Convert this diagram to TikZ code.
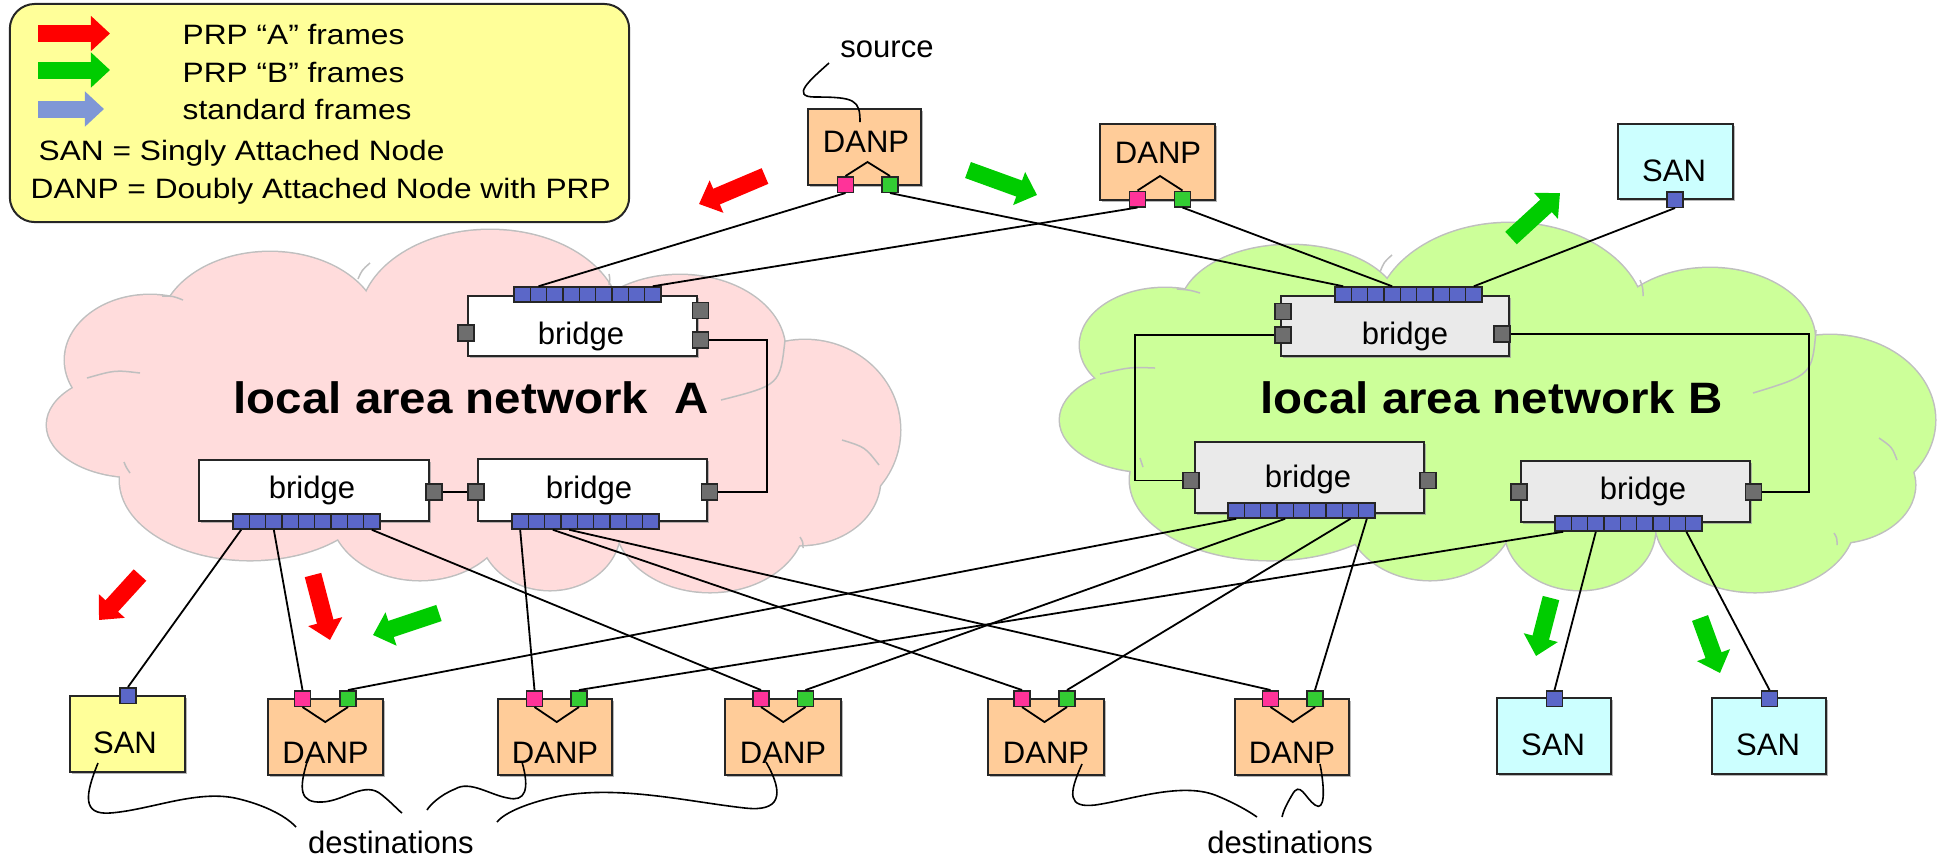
\documentclass[tikz,border=0pt]{standalone}
\usepackage{fontspec}
\setmainfont{Liberation Sans}
\usepackage{graphicx}
\usetikzlibrary{arrows.meta,shadows}
\definecolor{legY}{HTML}{FFFF99}
\definecolor{cloudA}{HTML}{FFDCDC}
\definecolor{cloudB}{HTML}{CCFF99}
\definecolor{cloudLine}{HTML}{BFBFBF}
\definecolor{danpC}{HTML}{FFCC99}
\definecolor{sanC}{HTML}{CCFFFF}
\definecolor{bridgeB}{HTML}{EAEAEA}
\definecolor{portBlue}{HTML}{5B67C8}
\definecolor{portGray}{HTML}{6E6E6E}
\definecolor{portPink}{HTML}{FF3399}
\definecolor{portGreen}{HTML}{33CC33}
\definecolor{arrRed}{HTML}{FF0000}
\definecolor{arrGreen}{HTML}{00CC00}
\definecolor{arrBlue}{HTML}{7F97D6}
\newcommand\fLeg{\fontsize{7.97pt}{9pt}\selectfont}
\newcommand\fBox{\fontsize{8.82pt}{10pt}\selectfont}
\newcommand\fLan{\fontsize{12.5pt}{14pt}\selectfont\bfseries}
\newcommand\hs[1]{\scalebox{1.13}[1]{#1}}
\begin{document}
\begin{tikzpicture}[x=0.01cm,y=-0.01cm,
  shad/.style={drop shadow={shadow xshift=0.022cm, shadow yshift=-0.022cm, fill=black!40, opacity=0.7}},
  boxst/.style={rectangle, draw=black!85, line width=0.02cm, inner sep=0pt, shad},
  stripcell/.style={rectangle, draw=black!85, line width=0.015cm, fill=portBlue, inner sep=0pt, minimum width=0.1633cm, minimum height=0.15cm},
  port/.style={rectangle, draw=black!85, line width=0.015cm, inner sep=0pt, minimum width=0.16cm, minimum height=0.155cm},
  gport/.style={port, fill=portGray, minimum height=0.16cm},
  pport/.style={port, fill=portPink},
  grport/.style={port, fill=portGreen},
  bport/.style={port, fill=portBlue},
  conn/.style={line width=0.018cm, draw=black},
  squig/.style={line width=0.016cm, draw=black},
  fat/.style={line width=0.17cm, -{Triangle[length=0.19cm,width=0.34cm]}},
  lbl/.style={inner sep=0pt, anchor=base, font=\fBox},
  legtxt/.style={inner sep=0pt, anchor=base west, font=\fLeg},
  cloudedge/.style={draw=cloudLine, line width=0.03cm},
  cloudarc/.style={draw=cloudLine, line width=0.015cm},
]
\useasboundingbox (0,0) rectangle (1937,859);

% ---------- clouds ----------
\foreach \cx/\cy/\rx/\ry in {150/360/85/65, 135/425/88/52, 270/330/110/78, 490/320/130/90, 680/350/105/75, 805/430/95/90, 800/480/80/65, 710/520/95/72, 550/530/70/60, 420/510/90/70, 250/480/130/80}
  \draw[cloudedge, fill=cloudA] (\cx,\cy) ellipse [x radius=\rx, y radius=\ry];
\foreach \cx/\cy/\rx/\ry in {150/360/85/65, 135/425/88/52, 270/330/110/78, 490/320/130/90, 680/350/105/75, 805/430/95/90, 800/480/80/65, 710/520/95/72, 550/530/70/60, 420/510/90/70, 250/480/130/80, 470/420/300/120}
  \fill[cloudA] (\cx,\cy) ellipse [x radius=\rx, y radius=\ry];
\draw[cloudarc] (162,296) .. controls (173,296) .. (183,300);
\draw[cloudarc] (87,378) .. controls (115,370) .. (140,373);
\draw[cloudarc] (370,263) .. controls (362,270) .. (358,279);
\draw[cloudarc] (609,274) .. controls (610,279) .. (609,285);
\draw[cloudarc] (785,340) .. controls (780,385) .. (721,400);
\draw[cloudarc] (842,440) .. controls (865,447) .. (879,465);
\draw[cloudarc] (800,537) .. controls (803,542) .. (803,548);
\draw[cloudarc] (124,462) .. controls (126,467) .. (130,473);

\foreach \cx/\cy/\rx/\ry in {1165/345/85/57, 1150/420/90/52, 1290/310/110/65, 1510/320/135/97, 1710/340/105/72, 1830/420/105/85, 1835/485/80/58, 1755/520/100/72, 1580/530/75/60, 1430/510/85/70, 1270/480/140/80}
  \draw[cloudedge, fill=cloudB] (\cx,\cy) ellipse [x radius=\rx, y radius=\ry];
\foreach \cx/\cy/\rx/\ry in {1165/345/85/57, 1150/420/90/52, 1290/310/110/65, 1510/320/135/97, 1710/340/105/72, 1830/420/105/85, 1835/485/80/58, 1755/520/100/72, 1580/530/75/60, 1430/510/85/70, 1270/480/140/80, 1500/420/320/120}
  \fill[cloudB] (\cx,\cy) ellipse [x radius=\rx, y radius=\ry];
\draw[cloudarc] (1177,289) .. controls (1190,290) .. (1200,293);
\draw[cloudarc] (1100,374) .. controls (1130,367) .. (1155,368);
\draw[cloudarc] (1392,255) .. controls (1384,262) .. (1380,272);
\draw[cloudarc] (1640,280) .. controls (1643,288) .. (1643,296);
\draw[cloudarc] (1816,330) .. controls (1812,375) .. (1753,393);
\draw[cloudarc] (1879,438) .. controls (1892,447) .. (1897,460);
\draw[cloudarc] (1834,533) .. controls (1837,538) .. (1837,545);
\draw[cloudarc] (1143,467) .. controls (1141,462) .. (1140,458);

\node[font=\fLan, inner sep=0pt, anchor=base west] (lanA) at (233,413) {\scalebox{1.08}[1]{local area network\ \ A}};
\node[font=\fLan, inner sep=0pt, anchor=base west] (lanB) at (1260,413) {\scalebox{1.08}[1]{local area network B}};

% ---------- legend ----------
\node[draw=black!85, line width=0.02cm, fill=legY, rounded corners=0.25cm, minimum width=6.19cm, minimum height=2.18cm, inner sep=0pt] (legend) at (319.5,113) {};
\draw[fat, arrRed] (38,33.5) -- (110,33.5);
\draw[fat, arrGreen] (38,70) -- (110,70);
\draw[fat, arrBlue] (38,109) -- (104,109);
\node[legtxt] (lg1) at (182,44) {\hs{PRP “A” frames}};
\node[legtxt] (lg2) at (182,82) {\hs{PRP “B” frames}};
\node[legtxt] (lg3) at (182,119) {\hs{standard frames}};
\node[legtxt] (lg4) at (38,160) {\hs{SAN = Singly Attached Node}};
\node[legtxt] (lg5) at (30,198) {\hs{DANP = Doubly Attached Node with PRP}};

% ---------- bridges LAN A ----------
\node[boxst, fill=white, minimum width=2.29cm, minimum height=0.60cm] (bAT) at (582.5,326) {};
\node[lbl] (bATt) at (581,344) {bridge};
\foreach \i in {1,...,9} \node[stripcell] (sAT\i) at ({514+(\i-0.5)*16.33},294.5) {};
\node[gport] (pATl) at (466,333) {};
\node[gport] (pATr1) at (700.5,310.5) {};
\node[gport] (pATr2) at (700.5,340) {};

\node[boxst, fill=white, minimum width=2.30cm, minimum height=0.61cm] (bAL) at (314,490.5) {};
\node[lbl] (bALt) at (312,498) {bridge};
\foreach \i in {1,...,9} \node[stripcell] (sAL\i) at ({233+(\i-0.5)*16.33},521.5) {};
\node[gport] (pALr) at (434,492) {};

\node[boxst, fill=white, minimum width=2.29cm, minimum height=0.62cm] (bAR) at (592.5,490) {};
\node[lbl] (bARt) at (589,498) {bridge};
\foreach \i in {1,...,9} \node[stripcell] (sAR\i) at ({512+(\i-0.5)*16.33},521.5) {};
\node[gport] (pARl) at (476,492) {};
\node[gport] (pARr) at (709.5,492) {};

% ---------- bridges LAN B ----------
\node[boxst, fill=bridgeB, minimum width=2.28cm, minimum height=0.60cm] (bBT) at (1395,326) {};
\node[lbl] (bBTt) at (1405,344) {bridge};
\foreach \i in {1,...,9} \node[stripcell] (sBT\i) at ({1335+(\i-0.5)*16.33},294.5) {};
\node[gport] (pBTl1) at (1283,311.5) {};
\node[gport] (pBTl2) at (1283,335) {};
\node[gport] (pBTr) at (1502,334) {};

\node[boxst, fill=bridgeB, minimum width=2.29cm, minimum height=0.71cm] (bBL) at (1309.5,477.5) {};
\node[lbl] (bBLt) at (1308,487) {bridge};
\foreach \i in {1,...,9} \node[stripcell] (sBL\i) at ({1228+(\i-0.5)*16.33},510.5) {};
\node[gport] (pBLl) at (1191,480.5) {};
\node[gport] (pBLr) at (1428,480.5) {};

\node[boxst, fill=bridgeB, minimum width=2.29cm, minimum height=0.61cm] (bBR) at (1635.5,491.5) {};
\node[lbl] (bBRt) at (1643,499) {bridge};
\foreach \i in {1,...,9} \node[stripcell] (sBR\i) at ({1555+(\i-0.5)*16.33},523.5) {};
\node[gport] (pBRl) at (1519,492) {};
\node[gport] (pBRr) at (1753.5,492) {};

% inter-bridge wires
\draw[conn] (pATr2.east) -- ++(58,0) |- (pARr.east);
\draw[conn] (pALr.east) -- (pARl.west);
\draw[conn] (pBTl2.west) -- ++(-139,0) |- (pBLl.west);
\draw[conn] (pBTr.east) -- ++(298,0) |- (pBRr.east);

% ---------- top nodes ----------
\node[boxst, fill=danpC, minimum width=1.13cm, minimum height=0.76cm] (src) at (864.5,147) {};
\node[lbl] (srcT) at (866,152) {DANP};
\node[pport] (srcP) at (845.5,184.5) {};
\node[grport] (srcG) at (890,184.5) {};
\coordinate (srcV) at (867.5,162);
\draw[conn] (srcP.north) -- (srcV) -- (srcG.north);

\node[boxst, fill=danpC, minimum width=1.15cm, minimum height=0.76cm] (dnp) at (1157.5,162) {};
\node[lbl] (dnpT) at (1158,163) {DANP};
\node[pport] (dnpP) at (1137.5,199) {};
\node[grport] (dnpG) at (1182.5,199) {};
\coordinate (dnpV) at (1160,176);
\draw[conn] (dnpP.north) -- (dnpV) -- (dnpG.north);

\node[boxst, fill=sanC, minimum width=1.15cm, minimum height=0.75cm] (sanTR) at (1675.5,161.5) {};
\node[lbl] (sanTRt) at (1674,181) {SAN};
\node[bport] (sanTRp) at (1675,199.5) {};

\node[lbl] (srcLbl) at (887,57) {source};
\draw[squig] (829,63) .. controls (810,80) and (790,97) .. (815,97) .. controls (855,97) and (860,100) .. (860,122);

% ---------- bottom nodes ----------
\node[boxst, fill=legY, minimum width=1.15cm, minimum height=0.76cm] (sanY) at (127.5,734) {};
\node[lbl] (sanYt) at (125,753) {SAN};
\node[bport] (sanYp) at (128,695.5) {};

\foreach \n/\cx/\w/\pp/\gp in {d1/325.5/1.15/302.5/348, d2/555/1.14/534.5/579, d3/783/1.16/761/805.5, d4/1046/1.16/1022/1067, d5/1292/1.14/1270.5/1315} {
  \node[boxst, fill=danpC, minimum width=\w cm, minimum height=0.76cm] (\n) at (\cx,737) {};
  \node[lbl] (\n t) at (\cx,763) {DANP};
  \node[pport] (\n P) at (\pp,698.5) {};
  \node[grport] (\n G) at (\gp,698.5) {};
  \coordinate (\n V) at ({(\pp+\gp)/2},722);
  \draw[conn] (\n P.south) -- (\n V) -- (\n G.south);
}

\node[boxst, fill=sanC, minimum width=1.14cm, minimum height=0.76cm] (sB1) at (1554,736) {};
\node[lbl] (sB1t) at (1553,755) {SAN};
\node[bport] (sB1p) at (1554.5,698.5) {};
\node[boxst, fill=sanC, minimum width=1.14cm, minimum height=0.76cm] (sB2) at (1769,736) {};
\node[lbl] (sB2t) at (1768,755) {SAN};
\node[bport] (sB2p) at (1769.5,698.5) {};

\node[lbl] (dest1) at (391,853) {destinations};
\node[lbl] (dest2) at (1290,853) {destinations};

\draw[squig] (98,763) .. controls (85,795) and (82,815) .. (110,813) .. controls (150,810) and (195,790) .. (235,798) .. controls (262,804) and (285,815) .. (296,827);
\draw[squig] (308,759) .. controls (298,790) and (300,803) .. (322,802) .. controls (345,801) and (365,780) .. (382,795) .. controls (392,803) and (398,810) .. (402,813);
\draw[squig] (522,762) .. controls (530,790) and (525,802) .. (508,798) .. controls (490,795) and (470,780) .. (455,789) .. controls (440,795) and (430,805) .. (427,810);
\draw[squig] (766,762) .. controls (785,795) and (780,812) .. (745,808) .. controls (690,802) and (620,785) .. (560,796) .. controls (530,802) and (505,812) .. (497,822);
\draw[squig] (1082,764) .. controls (1068,795) and (1068,808) .. (1095,805) .. controls (1130,800) and (1180,782) .. (1215,795) .. controls (1235,803) and (1250,812) .. (1257,817);
\draw[squig] (1320,764) .. controls (1325,790) and (1325,812) .. (1315,805) .. controls (1305,798) and (1300,780) .. (1292,795) .. controls (1286,805) and (1283,812) .. (1282,817);

% ---------- connectors ----------
\draw[conn] (srcP.south) -- (sAT2.north);
\draw[conn] (srcG.south) -- (sBT1.north);
\draw[conn] (dnpP.south) -- (sAT9.north);
\draw[conn] (dnpG.south) -- (sBT4.north);
\draw[conn] (sanTRp.south) -- (sBT9.north);
\draw[conn] (sAL1.south) -- (sanYp.north);
\draw[conn] (sAL3.south) -- (d1P.north);
\draw[conn] (sAL9.south) -- (d3P.north);
\draw[conn] (sAR1.south) -- (d2P.north);
\draw[conn] (sAR3.south) -- (d4P.north);
\draw[conn] (sAR4.south) -- (d5P.north);
\draw[conn] (sBL1.south) -- (d1G.north);
\draw[conn] (sBL4.south) -- (d3G.north);
\draw[conn] (sBL8.south) -- (d4G.north);
\draw[conn] (sBL9.south) -- (d5G.north);
\draw[conn] (sBR1.south) -- (d2G.north);
\draw[conn] (sBR3.south) -- (sB1p.north);
\draw[conn] (sBR8.south east) -- (sB2p.north);

% ---------- flow arrows ----------
\draw[fat, arrRed] (765,176) -- (699,204);
\draw[fat, arrGreen] (968,170) -- (1037,195);
\draw[fat, arrGreen] (1511,238) -- (1560,193);
\draw[fat, arrRed] (140,575) -- (99,620);
\draw[fat, arrRed] (313,575) -- (330,640);
\draw[fat, arrGreen] (439,613) -- (373,635);
\draw[fat, arrGreen] (1551,598) -- (1536,656);
\draw[fat, arrGreen] (1700,618) -- (1720,673);
\end{tikzpicture}
\end{document}
